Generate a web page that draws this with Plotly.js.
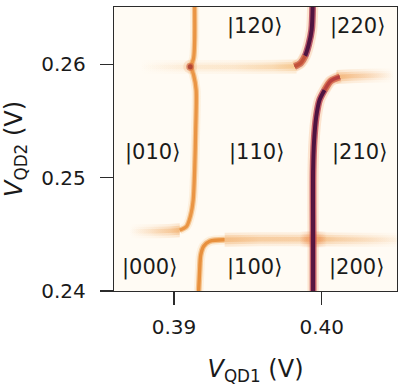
<!DOCTYPE html>
<html>
<head>
<meta charset="utf-8">
<script src="https://cdn.plot.ly/plotly-3.0.1.min.js"></script>
<style>html,body{margin:0;padding:0;background:#fff;}#chart{width:408px;height:387px;}</style>
</head>
<body>
<div id="chart"></div>
<script>
// ---- Data (volts) ----
// QD1 0->1 transition, above the QD2 crossing point
const lineA_x = [0.39140, 0.39140, 0.39133, 0.39113];
const lineA_y = [0.26510, 0.26215, 0.26056, 0.25979];
// QD1 0->1 transition, between crossing point and lower anticrossing
const lineB_x = [0.39113, 0.39133, 0.39150, 0.39147, 0.39140, 0.39130, 0.39113, 0.39086, 0.39039];
const lineB_y = [0.25979, 0.25905, 0.25773, 0.25420, 0.25066, 0.24801, 0.24669, 0.24572, 0.24536];
const tailB_x = [0.39039, 0.38960, 0.38880, 0.38800, 0.38700];
const tailB_y = [0.24536, 0.24530, 0.24527, 0.24527, 0.24527];
// QD1 0->1 transition, lower branch
const lineC_x = [0.39167, 0.39174, 0.39181, 0.39201, 0.39242, 0.39343];
const lineC_y = [0.24000, 0.24183, 0.24315, 0.24395, 0.24439, 0.24452];
// QD2 transition (lower), running right
const lineD_x = [0.39343, 0.39580, 0.39800, 0.39939, 0.40100, 0.40300, 0.40508];
const lineD_y = [0.24452, 0.24457, 0.24457, 0.24457, 0.24455, 0.24453, 0.24452];
// glow where the lower QD2 transition crosses the QD1 1->2 line
const crossGlowX = [0.39850, 0.40035];
const crossGlowY = [0.24456, 0.24456];
// QD1 1->2 transition, lower branch
const lineE_x = [0.39942, 0.39942, 0.39942, 0.39949, 0.39963, 0.39986, 0.40020, 0.40061, 0.40122];
const lineE_y = [0.24000, 0.24448, 0.25066, 0.25331, 0.25534, 0.25685, 0.25773, 0.25852, 0.25888];
const tailE_x = [0.40100, 0.40200, 0.40300, 0.40400, 0.40490];
const tailE_y = [0.25888, 0.25895, 0.25899, 0.25901, 0.25901];
// QD1 1->2 transition, upper branch
const lineF_x = [0.39939, 0.39932, 0.39912, 0.39888, 0.39858, 0.39817];
const lineF_y = [0.26510, 0.26303, 0.26171, 0.26073, 0.26011, 0.25981];
const tailF_x = [0.39830, 0.39700, 0.39580, 0.39400, 0.39174, 0.39000, 0.38768];
const tailF_y = [0.25981, 0.25978, 0.25976, 0.25976, 0.25976, 0.25976, 0.25976];
// bright crossing spot (upper left)
const spotX = [0.39110];
const spotY = [0.25979];

// state labels
const stateLabels = ['|000⟩', '|100⟩', '|200⟩', '|010⟩', '|110⟩', '|210⟩', '|120⟩', '|220⟩'];
const stateX = [0.38835, 0.39546, 0.40237, 0.38856, 0.39560, 0.40257, 0.39546, 0.40244];
const stateY = [0.24209, 0.24209, 0.24209, 0.25225, 0.25225, 0.25225, 0.26330, 0.26330];

const xTickVals = [0.39, 0.40];
const xTickText = ['0.39', '0.40'];
const yTickVals = [0.24, 0.25, 0.26];
const yTickText = ['0.24', '0.25', '0.26'];

// ---- Styling helpers ----
const PX_Y = 0.025 / 284;   // volts per pixel, vertical (style only)
const traces = [];
function path(xs, ys, color, width, opacity) {
  traces.push({type: 'scatter', mode: 'lines', x: xs, y: ys, hoverinfo: 'skip',
    line: {color: color, width: width, shape: 'spline', smoothing: 0.8}, opacity: opacity});
}
function glowPath(xs, ys, outer, mid, core, w) {
  path(xs, ys, outer, w * 2.8, 0.3);
  path(xs, ys, mid, w * 1.7, 0.75);
  path(xs, ys, core, w, 1);
}
// soft horizontal band around a near-horizontal line, with a colour gradient along x
function band(xs, ys, halfPx, scale, gtype) {
  const h = halfPx * PX_Y;
  const bx = xs.concat(xs.slice().reverse());
  const by = ys.map(function (v) { return v + h; }).concat(ys.slice().reverse().map(function (v) { return v - h; }));
  traces.push({type: 'scatter', mode: 'none', x: bx, y: by, fill: 'toself', hoverinfo: 'skip',
    fillgradient: {type: gtype || 'horizontal', colorscale: scale}});
}
function soft(xs, ys, rgb, peak, scaleStops, sizes) {
  (sizes || [[7, 0.35], [4.5, 0.55], [2.2, 0.8]]).forEach(function (b) {
    band(xs, ys, b[0], scaleStops.map(function (s) {
      return [s[0], 'rgba(' + rgb + ',' + (s[1] * peak * b[1]).toFixed(3) + ')'];
    }));
  });
}

// faint QD2 transitions (under the QD1 lines)
soft(tailF_x, tailF_y, '244,188,120', 0.7, [[0, 0], [0.35, 0.25], [0.6, 0.3], [0.85, 0.55], [1, 1]]);
soft(tailE_x, tailE_y, '242,172,105', 0.8, [[0, 1], [0.3, 0.6], [0.7, 0.25], [1, 0]]);
soft(tailB_x, tailB_y, '242,175,108', 0.8, [[0, 0], [0.4, 0.25], [0.8, 0.6], [1, 1]]);
soft(lineD_x, lineD_y, '242,178,112', 0.8, [[0, 0.9], [0.2, 0.6], [0.45, 0.55], [0.55, 0.8], [0.65, 0.55], [0.85, 0.3], [1, 0.1]]);
soft(crossGlowX, crossGlowY, '236,135,75', 0.7, [[0, 0], [0.5, 1], [1, 0]], [[8, 0.4], [5, 0.55], [2.5, 0.6]]);

// QD1 0->1 lines (orange)
glowPath(lineA_x, lineA_y, '#fad7ab', '#f2b575', '#ea9544', 3.2);
glowPath(lineB_x, lineB_y, '#fad7ab', '#f2b575', '#ea9544', 3.2);
glowPath(lineC_x, lineC_y, '#fad7ab', '#f2b575', '#e8903d', 3.4);

// QD1 1->2 lines (dark)
glowPath(lineE_x, lineE_y, '#f4b07a', '#b8394a', '#4e1340', 4);
glowPath(lineE_x.slice(6), lineE_y.slice(6), '#f6c08a', '#e07048', '#b8403f', 3.4);
glowPath(lineF_x, lineF_y, '#f4b07a', '#a52f4b', '#501440', 4);
glowPath(lineF_x.slice(3), lineF_y.slice(3), '#f6c08a', '#e57a48', '#c2513c', 3.4);

// upper-left crossing spot
[[14, 0.2, '#f0a060'], [8, 0.6, '#d0603a'], [5, 0.8, '#a83a30']].forEach(function (s) {
  traces.push({type: 'scatter', mode: 'markers', x: spotX, y: spotY, hoverinfo: 'skip',
    marker: {size: s[0], color: s[2], opacity: s[1], line: {width: 0}}});
});
// dark core through lower crossing
path(lineE_x.slice(0, 3), lineE_y.slice(0, 3), '#5a1742', 2.6, 0.85);

const textFont = {family: 'DejaVu Sans', size: 21, color: '#1a1a1a'};
const annotations = stateLabels.map(function (t, i) {
  return {x: stateX[i], y: stateY[i], xref: 'x', yref: 'y', text: t, showarrow: false, font: textFont};
});
// y-axis title as rotated annotation
annotations.push({xref: 'paper', yref: 'paper', x: -0.35, y: 0.5, xanchor: 'center', yanchor: 'middle',
  textangle: -90, showarrow: false, text: '<i>V</i><sub>QD2</sub> (V)',
  font: {family: 'DejaVu Sans', size: 24, color: '#1a1a1a'}});

const axisCommon = {
  showgrid: false, zeroline: false, showline: true, mirror: true,
  linecolor: '#2b2b2b', linewidth: 1.3,
  ticks: 'outside', ticklen: 13, tickwidth: 1.2, tickcolor: '#2b2b2b',
  tickfont: {family: 'DejaVu Sans', size: 20, color: '#1a1a1a'}, fixedrange: true
};

const layout = {
  width: 408, height: 387,
  margin: {l: 114, r: 11, t: 7, b: 96, pad: 0},
  paper_bgcolor: '#ffffff', plot_bgcolor: '#fffbf4',
  showlegend: false,
  xaxis: Object.assign({}, axisCommon, {
    range: [0.38594, 0.40510], tickmode: 'array', tickvals: xTickVals, ticktext: xTickText,
    ticklabelstandoff: 5,
    title: {text: '<i>V</i><sub>QD1</sub> (V)', font: {family: 'DejaVu Sans', size: 24, color: '#1a1a1a'}, standoff: 22}
  }),
  yaxis: Object.assign({}, axisCommon, {
    range: [0.24, 0.26505], tickmode: 'array', tickvals: yTickVals, ticktext: yTickText,
    ticklabelstandoff: 10
  }),
  annotations: annotations
};

Plotly.newPlot('chart', traces, layout, {staticPlot: true, displayModeBar: false});
</script>
</body>
</html>
